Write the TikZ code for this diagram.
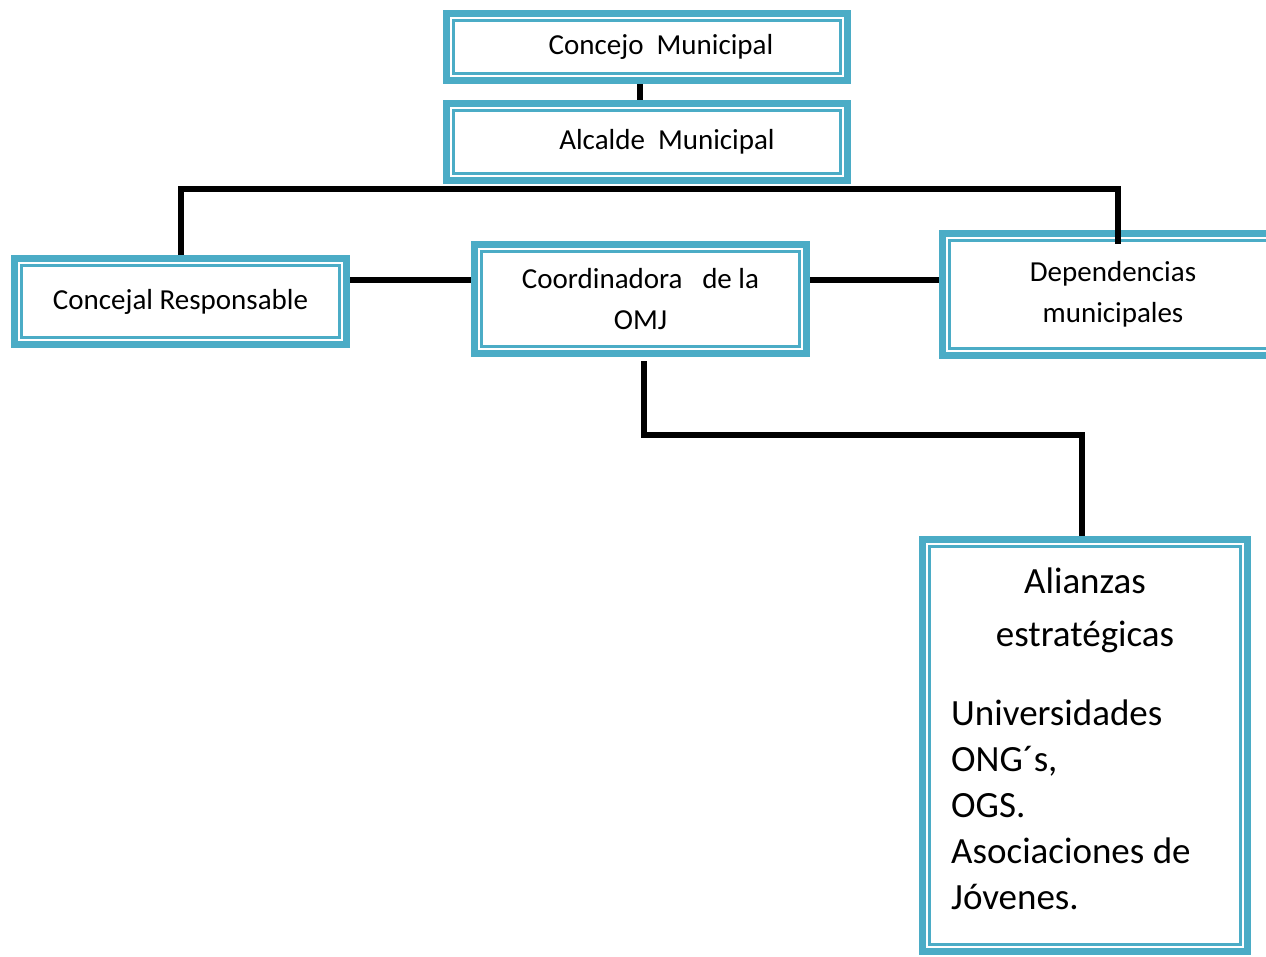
\documentclass[tikz,border=0pt]{standalone}
\usepackage{fontspec}
\setmainfont{Carlito}
\usepackage{tikz}
\definecolor{aqua}{HTML}{4BACC6}
\tikzstyle{caja}=[draw=aqua,line width=7pt,fill=white,inner sep=0pt,align=center,
    font=\fontsize{29}{41}\selectfont,
    path picture={\draw[aqua,line width=2.2pt]
      ([shift={(7pt,-7pt)}]path picture bounding box.north west) rectangle
      ([shift={(-7pt,7pt)}]path picture bounding box.south east);}]
\tikzstyle{conector} = [draw,black,line width=6pt]
\tikzstyle{grande} = [font=\fontsize{37}{46}\selectfont,inner sep=0pt]

\begin{document}
\begin{tikzpicture}[x=1pt,y=-1pt]
    \useasboundingbox (0,0) rectangle (1266,956);
    \foreach \pos/\name/\w/\h/\texto in {(647,47)/concejo/401/67/{\hspace*{28pt}\raisebox{-4pt}{Concejo\ \ Municipal}},
    (647,142)/alcalde/401/77/{\hspace*{40pt}Alcalde\ \ Municipal},
    (180.5,301.5)/concejal/332/86/{Concejal Responsable},
    (640.5,299)/coordinadora/332/109/{Coordinadora\ \ \ de la\\OMJ},
    (1113,294.5)/dependencias/341/122/{Dependencias\\municipales},
    (1085,745.5)/alianzas/325/412/{}}
        \node[caja,minimum width=\w pt,minimum height=\h pt] (\name) at \pos {\texto};

    \node[grande,align=center,font=\fontsize{37}{53}\selectfont] (titulo) at (1085,610) {Alianzas\\estratégicas};
    \node[grande,align=left,anchor=west] (lista) at (951,805)
        {Universidades\\ONG´s,\\OGS.\\Asociaciones de\\Jóvenes.};

    \coordinate (nivel) at (0,280);
    \coordinate (barra) at (1118,189);
    \coordinate (codo) at (1082,435);

    \path[conector] ([xshift=-7pt]concejo.south) -- ([xshift=-7pt]alcalde.north);
    \path[conector] (concejal.north) |- (barra) -- ([xshift=5pt,yshift=-13.5pt]dependencias.north);
    \path[conector] (concejal.east |- nivel) -- (coordinadora.west |- nivel);
    \path[conector] (coordinadora.east |- nivel) -- (dependencias.west |- nivel);
    \path[conector] ([xshift=3pt,yshift=-4pt]coordinadora.south) |- (codo) -- (codo |- alianzas.north);
\end{tikzpicture}
\end{document}
